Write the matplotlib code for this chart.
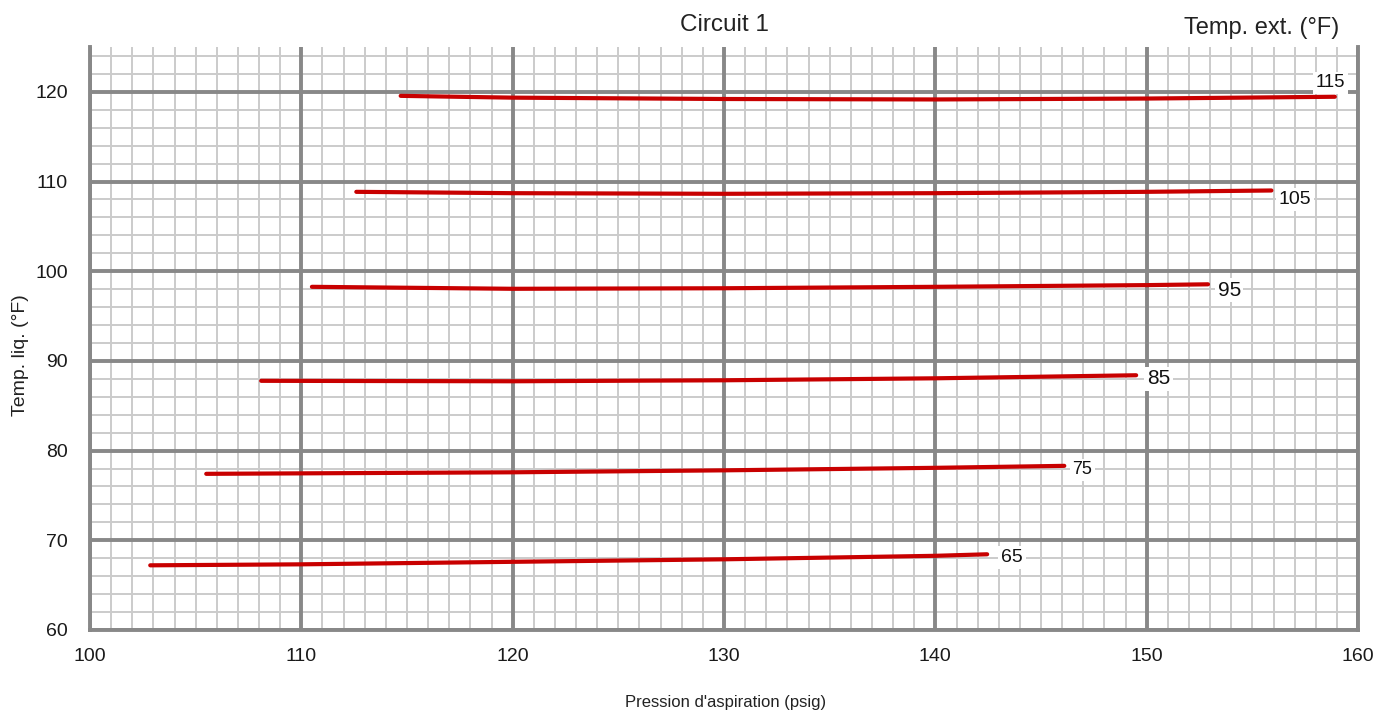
import matplotlib
matplotlib.use("Agg")
import matplotlib.pyplot as plt
import numpy as np
from matplotlib.ticker import MultipleLocator

# Data: outdoor temperature curves (pressure psig, liquid temp °F)
labels = ["115", "105", "95", "85", "75", "65"]
x115 = [114.7, 120, 130, 140, 150, 158.9]
y115 = [119.55, 119.35, 119.2, 119.15, 119.25, 119.45]
x105 = [112.6, 120, 130, 140, 150, 155.9]
y105 = [108.85, 108.7, 108.63, 108.7, 108.85, 109.0]
x95 = [110.5, 120, 130, 140, 150, 152.9]
y95 = [98.26, 98.04, 98.1, 98.26, 98.45, 98.54]
x85 = [108.1, 120, 130, 140, 149.5]
y85 = [87.78, 87.73, 87.84, 88.06, 88.4]
x75 = [105.5, 120, 130, 140, 146.1]
y75 = [77.41, 77.58, 77.8, 78.08, 78.3]
x65 = [102.85, 110, 120, 130, 140, 142.45]
y65 = [67.21, 67.32, 67.6, 67.88, 68.27, 68.44]

series = [(x115, y115), (x105, y105), (x95, y95), (x85, y85), (x75, y75), (x65, y65)]
label_pos = [(158.7, 121.0), (157.0, 108.0), (153.9, 97.9), (150.55, 88.0), (146.95, 77.85), (143.63, 68.1)]
label_sizes = [13.3, 14, 15, 15, 13, 14]

FONT = ["Liberation Sans Narrow", "Liberation Sans", "DejaVu Sans"]
plt.rcParams['font.family'] = FONT

XMIN, XMAX, YMIN, YMAX = 100, 160, 60, 125

fig = plt.figure(figsize=(13.74, 7.15), dpi=100)
ax = fig.add_axes([0.0655, 0.1189, 0.9884 - 0.0655, 0.9343 - 0.1189])
ax.set_xlim(XMIN, XMAX)
ax.set_ylim(YMIN, YMAX)

ax.xaxis.set_major_locator(MultipleLocator(10))
ax.yaxis.set_major_locator(MultipleLocator(10))
ax.grid(False)

# grid drawn as line collections so major lines sit on top of all minor lines
minor_x = [v for v in np.arange(XMIN, XMAX + 0.5, 1) if v % 10 != 0]
minor_y = [v for v in np.arange(YMIN, YMAX + 0.5, 2) if v % 10 != 0]
major_x = list(np.arange(XMIN, XMAX + 1, 10))
major_y = list(np.arange(YMIN, YMAX, 10))
ax.vlines(minor_x, YMIN, YMAX, color='#cbcbcb', linewidth=1.4, zorder=0.5)
ax.hlines(minor_y, XMIN, XMAX, color='#cbcbcb', linewidth=1.4, zorder=0.5)
ax.vlines(major_x, YMIN, YMAX, color='#888888', linewidth=2.8, zorder=1)
ax.hlines(major_y, XMIN, XMAX, color='#888888', linewidth=2.8, zorder=1)

for side in ['top']:
    ax.spines[side].set_visible(False)
for side in ['left', 'bottom', 'right']:
    ax.spines[side].set_color('#888888')
    ax.spines[side].set_linewidth(2.8)

ax.tick_params(which='both', length=0)
ax.tick_params(axis='x', pad=13, labelsize=14, labelcolor='#1a1a1a')
ax.tick_params(axis='y', pad=16, labelsize=14, labelcolor='#1a1a1a')

for (xs, ys) in series:
    ax.plot(xs, ys, color='#c80000', linewidth=3.0, solid_capstyle='round', zorder=3)

for lab, (lx, ly), fs in zip(labels, label_pos, label_sizes):
    ax.text(lx, ly, lab, fontsize=fs, ha='center', va='center', color='#111111', zorder=4,
            bbox=dict(facecolor='white', edgecolor='none', pad=2))

fig.text(0.527, 0.965, "Circuit 1", fontsize=17.5, ha='center', va='center', color='#222222',
         family=["Liberation Sans", "DejaVu Sans"])
fig.text(0.918, 0.961, "Temp. ext. (°F)", fontsize=17, ha='center', va='center', color='#222222',
         family=["Liberation Sans", "DejaVu Sans"])
fig.text(0.015, 0.503, "Temp. liq. (°F)", fontsize=14, ha='center', va='center', rotation=90,
         color='#222222')
fig.text(0.528, 0.017, "Pression d'aspiration (psig)", fontsize=12, ha='center', va='center',
         color='#222222')

fig.savefig("out.png", dpi=100)
